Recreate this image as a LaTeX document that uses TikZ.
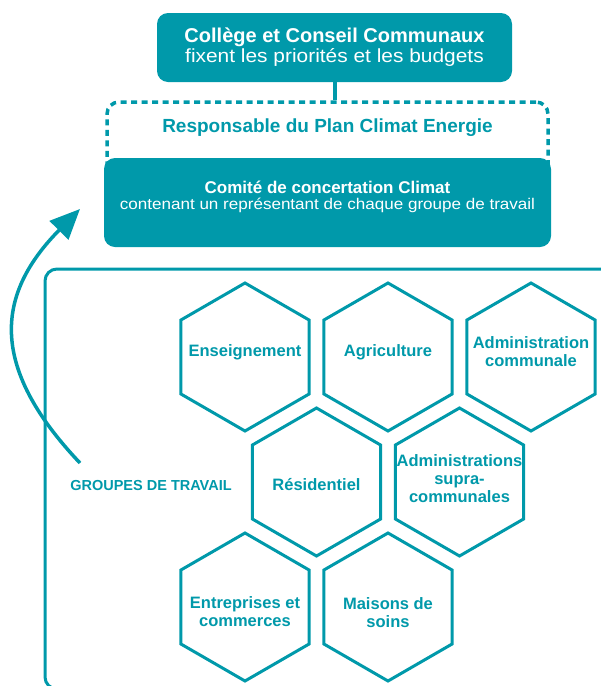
\documentclass[tikz,border=0pt]{standalone}
\usepackage{fontspec}
\setmainfont{Liberation Sans}
\newfontfamily\widefont[FakeStretch=1.1]{Liberation Sans}
\usepackage{tikz}
\usetikzlibrary{shapes.geometric, arrows.meta, positioning}
\definecolor{climat}{RGB}{0,153,170}

\begin{document}
\begin{tikzpicture}[
    x=1pt, y=-1pt,
    panel/.style={rectangle, rounded corners=11pt, fill=climat, text=white, align=center, inner sep=0pt},
    dashbox/.style={rectangle, rounded corners=12pt, draw=climat, line width=3.5pt, dash pattern=on 6pt off 4.5pt, minimum width=441pt, minimum height=88pt},
    hexa/.style={regular polygon, regular polygon sides=6, shape border rotate=30, draw=climat, line width=3pt, fill=white, minimum size=148pt, inner sep=0pt},
    hexlabel/.style={align=center, text=climat, inner sep=0pt, font=\bfseries\fontsize{16.5}{18}\selectfont},
    frame/.style={draw=climat, line width=3pt, rounded corners=12pt},
    link/.style={climat, line width=4pt},
    arrow/.style={-{Triangle[length=30pt, width=26pt]}, climat, line width=3.5pt}
]
\clip (0,0) rectangle (601,686);

% Top: decision levels
\node[dashbox] (dashbox) at (327.5,146) {};
\node[text=climat, font=\bfseries\fontsize{19}{20}\selectfont] (responsable) at (327.5,128) {Responsable du Plan Climat Energie};
\node[panel, minimum width=447pt, minimum height=89pt] (comite) at (327.5,202.5) {};
\node[text=white, align=center, font=\fontsize{15.5}{16}\selectfont] (comitetext) at (327.5,197) {{\bfseries\fontsize{17}{16}\selectfont Comité de concertation Climat}\\{\widefont contenant un représentant de chaque groupe de travail}};
\node[panel, minimum width=355pt, minimum height=69pt, font=\fontsize{19}{20}\selectfont] (college) at (334.5,47.5) {{\bfseries\fontsize{20}{20}\selectfont Collège et Conseil Communaux}\\{\widefont fixent les priorités et les budgets}};
\draw[link] (college.south) -- (college.south |- dashbox.north);

% Bottom: working groups
\draw[frame] (45,269) rectangle (620,689);
\node[hexa, label={[hexlabel, yshift=5pt]center:Enseignement}] (enseignement) at (245,357) {};
\node[hexa, label={[hexlabel, yshift=5pt]center:Agriculture}] (agriculture) at (388,357) {};
\node[hexa, label={[hexlabel, yshift=5pt]center:Administration\\communale}] (admincom) at (531,357) {};
\node[hexa, label={[hexlabel, yshift=-3pt]center:Résidentiel}] (residentiel) at (316.5,482) {};
\node[hexa, label={[hexlabel, yshift=3pt]center:Administrations\\supra-\\communales}] (adminsupra) at (459.5,482) {};
\node[hexa, label={[hexlabel, yshift=-5pt]center:Entreprises et\\commerces}] (entreprises) at (245,607) {};
\node[hexa, label={[hexlabel, yshift=-6pt]center:Maisons de\\soins}] (maisons) at (388,607) {};
\node[text=climat, font=\bfseries\fontsize{14.5}{16}\selectfont] (groupes) at (151,485.5) {GROUPES DE TRAVAIL};

% Arrow up to the committee
\coordinate (arrowstart) at (80,463);
\coordinate (arrowtip) at (80,209);
\draw[arrow] (arrowstart) .. controls (-13,365) and (-3,293) .. (arrowtip);

\end{tikzpicture}
\end{document}
